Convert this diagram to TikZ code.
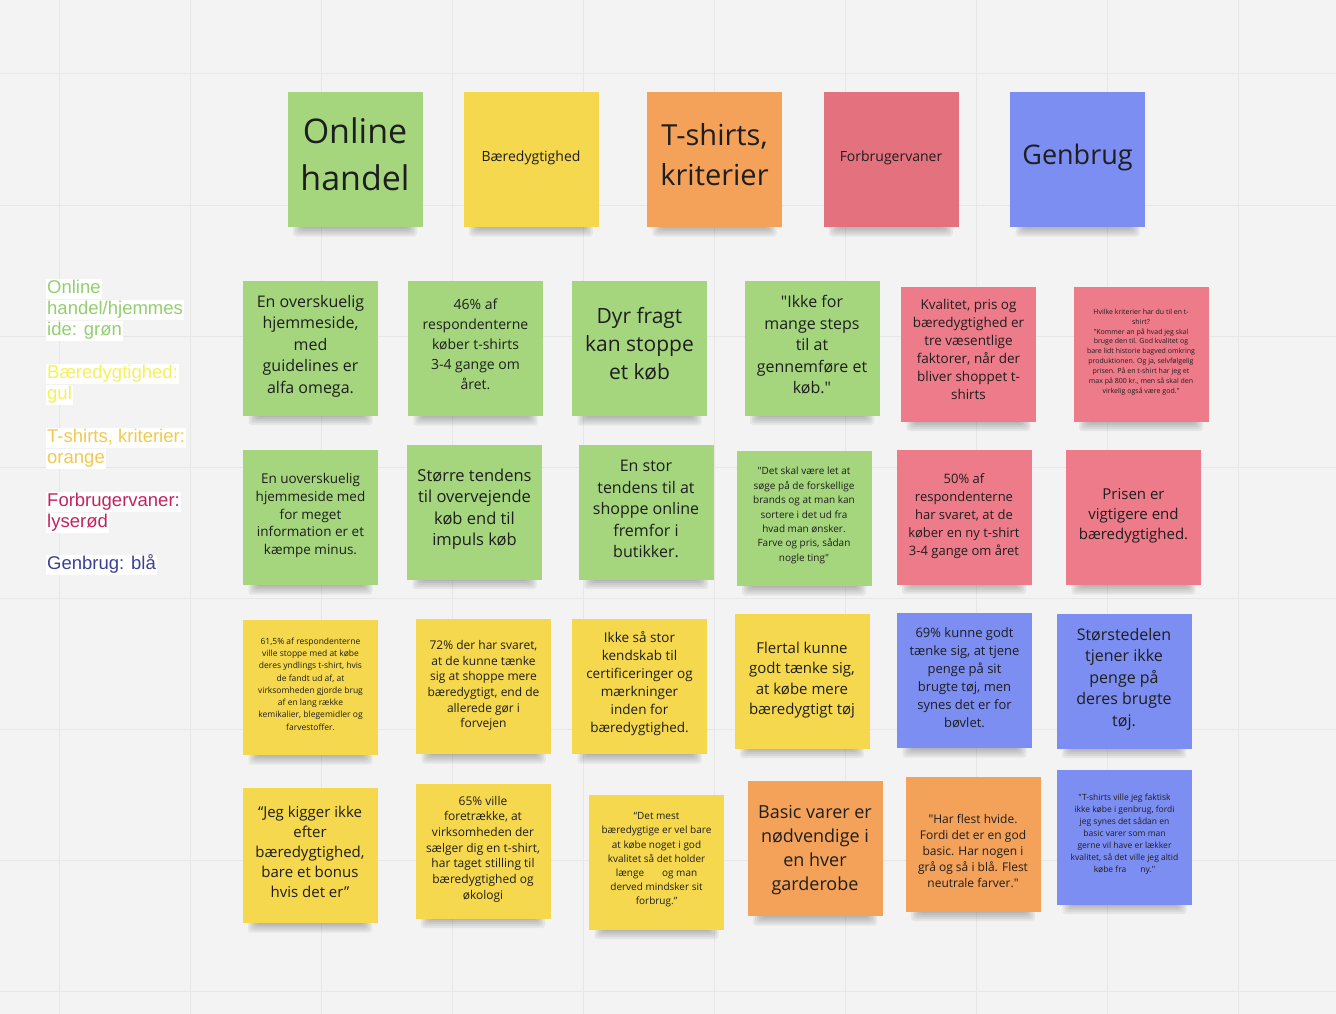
\documentclass[tikz,border=0pt]{standalone}
\usepackage{fontspec}
\newfontfamily\notefont{Open Sans}
\newfontfamily\legfont{Liberation Sans}
\usetikzlibrary{calc}
\definecolor{bg}{HTML}{F3F3F3}
\definecolor{gridc}{HTML}{E7E7E7}
\definecolor{ngreen}{HTML}{A5D67E}
\definecolor{nyellow}{HTML}{F5D84D}
\definecolor{norange}{HTML}{F4A25A}
\definecolor{nredh}{HTML}{E4717E}
\definecolor{nred}{HTML}{EE7B89}
\definecolor{nblue}{HTML}{7C8EF2}
\definecolor{ntext}{HTML}{1E1E1E}
\definecolor{lgreen}{HTML}{93CF6F}
\definecolor{lyellow}{HTML}{F7F05A}
\definecolor{lorange}{HTML}{F2C94E}
\definecolor{lred}{HTML}{C52260}
\definecolor{lblue}{HTML}{3C3F96}
\tikzset{
  note/.style={minimum width=135pt, minimum height=135pt, inner sep=0pt},
  notetext/.style={inner sep=0pt, align=center, text=ntext},
  leg/.style={anchor=base west, fill=white, inner xsep=1pt, inner ysep=0pt, text height=14.5pt, text depth=6pt, font=\legfont\fontsize{18.5}{21}\selectfont}
}
% #1 name, #2 cx, #3 cy, #4 colour, #5 size, #6 leading, #7 text shift, #8 text
\newcommand\stk[8]{%
  \foreach \s in {0,2,4,6,8}{\fill[black,opacity=0.055,rounded corners=3pt] (#2-62+\s,#3+40) rectangle (#2+62-\s,#3+77-\s);}
  \node[note,fill=#4] (#1) at (#2,#3) {};
  \node[notetext,font=\notefont\fontsize{#5}{#6}\selectfont] (#1-t) at (#2,#3+#7) {#8};
}
\begin{document}
\begin{tikzpicture}[x=1pt,y=-1pt]
\fill[bg] (0,0) rectangle (1336,1014);
\useasboundingbox (0,0) rectangle (1336,1014);
\foreach \k in {0,...,7}{\draw[gridc,line width=1pt] (0,74+131*\k) -- (1336,74+131*\k);}
\foreach \k in {-1,...,9}{\draw[gridc,line width=1pt] (190+131*\k,0) -- (190+131*\k,1014);}

% legend
\node[leg,text=lgreen] (l1) at (46,293) {Online};
\node[leg,text=lgreen] (l2) at (46,314) {handel/hjemmes};
\node[leg,text=lgreen] (l3) at (46,335) {ide: grøn};
\node[leg,text=lyellow] (l4) at (46,378) {Bæredygtighed:};
\node[leg,text=lyellow] (l5) at (46,399) {gul};
\node[leg,text=lorange] (l6) at (46,442) {T-shirts, kriterier:};
\node[leg,text=lorange] (l7) at (46,463) {orange};
\node[leg,text=lred] (l8) at (46,506) {Forbrugervaner:};
\node[leg,text=lred] (l9) at (46,527) {lyserød};
\node[leg,text=lblue] (l10) at (46,569) {Genbrug: blå};

% header
\stk{h1}{355}{159.5}{ngreen}{34}{47}{-5}{Online\\handel}
\stk{h2}{531}{159.5}{nyellow}{14}{18}{-2}{Bæredygtighed}
\stk{h3}{714.5}{159.5}{norange}{29}{40}{-5}{T-shirts,\\kriterier}
\stk{h4}{891}{159.5}{nredh}{14}{18}{-2}{Forbrugervaner}
\stk{h5}{1077.5}{159.5}{nblue}{27}{34}{-2}{Genbrug}

% row 1
\stk{a1}{310.5}{348}{ngreen}{16}{21.5}{-2}{En overskuelig\\hjemmeside,\\med\\guidelines er\\alfa omega.}
\stk{a2}{475.5}{348.5}{ngreen}{14}{20}{-4}{46\% af\\respondenterne\\køber t-shirts\\3-4 gange om\\året.}
\stk{a3}{639.5}{348.5}{ngreen}{21}{28}{-5}{Dyr fragt\\kan stoppe\\et køb}
\stk{a4}{812}{348}{ngreen}{16}{21.5}{-3}{"Ikke for\\mange steps\\til at\\gennemføre et\\køb."}
\stk{a5}{968.5}{354}{nred}{13.5}{18}{-4.5}{Kvalitet, pris og\\bæredygtighed er\\tre væsentlige\\faktorer, når der\\bliver shoppet t-\\shirts}
\stk{a6}{1141}{354}{nred}{7}{9.9}{-2}{Hvilke kriterier har du til en t-\\shirt?\\"Kommer an på hvad jeg skal\\bruge den til. God kvalitet og\\bare lidt historie bagved omkring\\produktionen. Og ja, selvfølgelig\\prisen. På en t-shirt har jeg et\\max på 800 kr., men så skal den\\virkelig også være god."}

% row 2
\stk{b1}{310.5}{517.5}{ngreen}{13.5}{17.7}{-2}{En uoverskuelig\\hjemmeside med\\for meget\\information er et\\kæmpe minus.}
\stk{b2}{474.5}{512}{ngreen}{16.5}{21.5}{-3}{Større tendens\\til overvejende\\køb end til\\impuls køb}
\stk{b3}{646}{512}{ngreen}{16}{21.5}{-3}{En stor\\tendens til at\\shoppe online\\fremfor i\\butikker.}
\stk{b4}{804}{518.5}{ngreen}{10}{14.4}{-3}{"Det skal være let at\\søge på de forskellige\\brands og at man kan\\sortere i det ud fra\\hvad man ønsker.\\Farve og pris, sådan\\nogle ting"}
\stk{b5}{964}{517}{nred}{13}{18}{-1}{50\% af\\respondenterne\\har svaret, at de\\køber en ny t-shirt\\3-4 gange om året}
\stk{b6}{1133.5}{517.5}{nred}{15}{20}{-2}{Prisen er\\vigtigere end\\bæredygtighed.}

% row 3
\stk{c1}{310.5}{687.5}{nyellow}{8.5}{12.3}{-3.5}{61,5\% af respondenterne\\ville stoppe med at købe\\deres yndlings t-shirt, hvis\\de fandt ud af, at\\virksomheden gjorde brug\\af en lang række\\kemikalier, blegemidler og\\farvestoffer.}
\stk{c2}{483.5}{686.5}{nyellow}{12}{15.7}{-1}{72\% der har svaret,\\at de kunne tænke\\sig at shoppe mere\\bæredygtigt, end de\\allerede gør i\\forvejen}
\stk{c3}{639.5}{686.5}{nyellow}{13.5}{18}{-2.5}{Ikke så stor\\kendskab til\\certificeringer og\\mærkninger\\inden for\\bæredygtighed.}
\stk{c4}{802}{681}{nyellow}{15}{20.3}{-1}{Flertal kunne\\godt tænke sig,\\at købe mere\\bæredygtigt tøj}
\stk{c5}{964.5}{680.5}{nblue}{13}{18}{-3}{69\% kunne godt\\tænke sig, at tjene\\penge på sit\\brugte tøj, men\\synes det er for\\bøvlet.}
\stk{c6}{1124}{681}{nblue}{16}{21.5}{-2}{Størstedelen\\tjener ikke\\penge på\\deres brugte\\tøj.}

% row 4
\stk{d1}{310}{855.5}{nyellow}{15}{20}{-3.5}{“Jeg kigger ikke\\efter\\bæredygtighed,\\bare et bonus\\hvis det er”}
\stk{d2}{483}{851}{nyellow}{12}{15.7}{-2}{65\% ville\\foretrække, at\\virksomheden der\\sælger dig en t-shirt,\\har taget stilling til\\bæredygtighed og\\økologi}
\stk{d3}{656.5}{862}{nyellow}{10}{14.2}{-2}{“Det mest\hspace{9pt}\\bæredygtige er vel bare\\at købe noget i god\\kvalitet så det holder\\længe\hspace{18pt}og man\\derved mindsker sit\\forbrug.”}
\stk{d4}{815}{848.5}{norange}{18}{24}{2}{Basic varer er\\nødvendige i\\en hver\\garderobe}
\stk{d5}{973}{844}{norange}{12}{16}{7}{"Har flest hvide.\\Fordi det er en god\\basic. Har nogen i\\grå og så i blå. Flest\\neutrale farver."}
\stk{d6}{1124.5}{837}{nblue}{8.5}{12}{-2.5}{"T-shirts ville jeg faktisk\\ikke købe i genbrug, fordi\\jeg synes det sådan en\\basic varer som man\\gerne vil have er lækker\\kvalitet, så det ville jeg altid\\købe fra\hspace{14pt}ny."}
\end{tikzpicture}
\end{document}
